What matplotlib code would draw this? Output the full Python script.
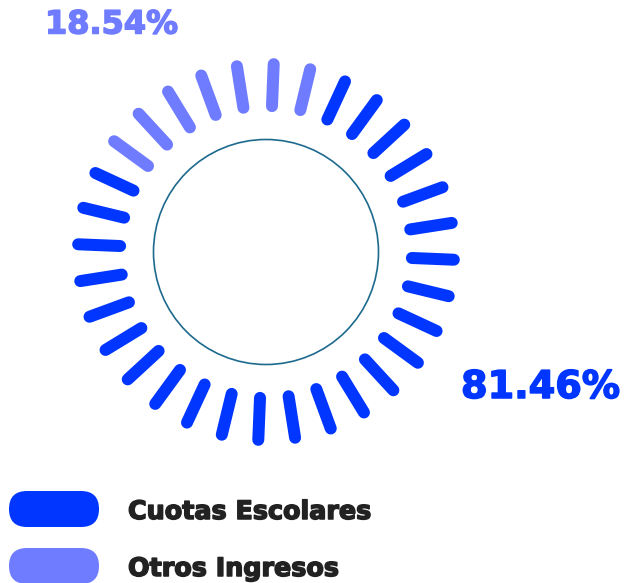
import numpy as np
import matplotlib
matplotlib.use("Agg")
import matplotlib.pyplot as plt
import matplotlib.patheffects as pe
from matplotlib.patches import Circle, FancyBboxPatch

# ---- data ----
categories = ["Cuotas Escolares", "Otros Ingresos"]
values = [81.46, 18.54]
value_labels = ["81.46%", "18.54%"]
colors = ["#0036FF", "#6F7CFF"]

# ---- layout (pixels) ----
W, H = 627, 583
fig = plt.figure(figsize=(W / 100, H / 100), dpi=100)
ax = fig.add_axes([0, 0, 1, 1])
ax.set_xlim(0, W)
ax.set_ylim(H, 0)
ax.set_aspect("equal")
ax.axis("off")

cx, cy = 266, 252
n_ticks = 32
r_in, r_out = 146, 188
tick_lw = 12 * 72 / 100
start_deg = 79.3          # boundary where first series starts, going clockwise
tick_offset = 76.4        # angle of first tick

# segment spans (clockwise from start)
total = sum(values)
spans = []
a = start_deg
for v in values:
    sweep = v / total * 360
    spans.append((a - sweep, a))  # (low, high) in degrees
    a -= sweep

def overlaps(lo, hi, seg):
    s_lo, s_hi = seg
    for shift in (-360, 0, 360):
        if lo < s_hi + shift and hi > s_lo + shift:
            return True
    return False

step = 360 / n_ticks
for k in range(n_ticks):
    th = tick_offset + k * step
    lo, hi = th - step / 2, th + step / 2
    touched = [i for i, sp in enumerate(spans) if overlaps(lo, hi, sp)]
    idx = min(touched, key=lambda i: values[i])
    t = np.deg2rad(th)
    xs = [cx + r_in * np.cos(t), cx + r_out * np.cos(t)]
    ys = [cy - r_in * np.sin(t), cy - r_out * np.sin(t)]
    ax.plot(xs, ys, color=colors[idx], lw=tick_lw, solid_capstyle="round")

ax.add_patch(Circle((cx, cy), 112.5, fill=False, ec="#1E6A8E", lw=1.2))

font = ["DejaVu Sans"]
def heavy(c):
    return [pe.withStroke(linewidth=1.1, foreground=c)]

ax.text(461, 388, value_labels[0], color=colors[0], fontsize=27.5, fontweight="bold",
        family=font, ha="left", va="center", path_effects=heavy(colors[0]))
ax.text(45, 25, value_labels[1], color=colors[1], fontsize=23, fontweight="bold",
        family=font, ha="left", va="center", path_effects=heavy(colors[1]))

# legend
leg_y = [509, 566]
for i, (cat, col) in enumerate(zip(categories, colors)):
    ax.add_patch(FancyBboxPatch((9, leg_y[i] - 18), 90, 36,
                                boxstyle="round,pad=0,rounding_size=18",
                                fc=col, ec="none"))
    ax.text(128, leg_y[i] + 3, cat, color="#222222", fontsize=18.3, fontweight="bold",
            family=font, ha="left", va="center", path_effects=heavy("#222222"))

fig.savefig("out.png", dpi=100)
